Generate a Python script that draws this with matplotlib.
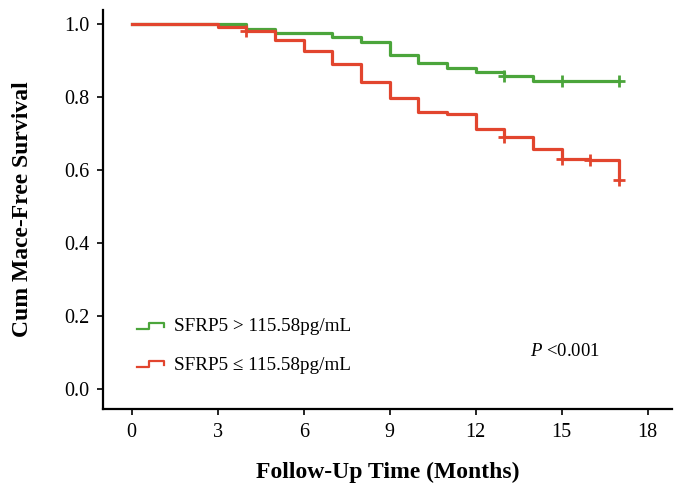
import numpy as np
import matplotlib
matplotlib.use("Agg")
import matplotlib.pyplot as plt
from matplotlib.legend_handler import HandlerBase
from matplotlib.lines import Line2D

# Kaplan-Meier step values
green_t = [0, 4, 5, 7, 8, 9, 10, 11, 12, 13, 14, 17]
green_s = [1.0, 0.986, 0.975, 0.964, 0.951, 0.915, 0.892, 0.879, 0.867, 0.856, 0.843, 0.843]
green_cens = [13, 15, 17]

red_t = [0, 3, 4, 5, 6, 7, 8, 9, 10, 11, 12, 13, 14, 15, 16, 17]
red_s = [1.0, 0.992, 0.981, 0.956, 0.926, 0.890, 0.840, 0.796, 0.757, 0.753, 0.712,
         0.690, 0.658, 0.630, 0.627, 0.571]
red_cens = [4, 13, 15, 16, 17]

labels = ["SFRP5 > 115.58pg/mL", "SFRP5 \u2264 115.58pg/mL"]
xticks = [0, 3, 6, 9, 12, 15, 18]
yticks = [0.0, 0.2, 0.4, 0.6, 0.8, 1.0]

GREEN = "#4ba53b"
RED = "#e2452e"

plt.rcParams["font.family"] = ["Liberation Serif", "DejaVu Serif"]
plt.rcParams["mathtext.fontset"] = "custom"
plt.rcParams["mathtext.rm"] = "Liberation Serif"
plt.rcParams["mathtext.it"] = "Liberation Serif:italic"


def step_at(t, s, x):
    idx = np.searchsorted(t, x, side="right") - 1
    return np.asarray(s)[idx]


class StepHandler(HandlerBase):
    # small step icon like the SPSS legend
    def create_artists(self, legend, orig_handle, xdescent, ydescent,
                       width, height, fontsize, trans):
        w = width * 0.9
        x = np.array([0, 0.42, 0.42, 1.0, 1.0]) * w - xdescent
        y = np.array([0.2, 0.2, 0.65, 0.65, 0.35]) * height - ydescent
        line = Line2D(x, y, color=orig_handle.get_color(), lw=1.6, transform=trans)
        return [line]


fig = plt.figure(figsize=(6.85, 4.97), dpi=100)
ax = fig.add_axes([0.1504, 0.1771, 0.8307, 0.803])

h1, = ax.plot(green_t, green_s, drawstyle="steps-post", color=GREEN, lw=2.3)
h2, = ax.plot(red_t, red_s, drawstyle="steps-post", color=RED, lw=2.3)
ax.plot(green_cens, step_at(green_t, green_s, green_cens), ls="none", marker="+",
        ms=9, mew=2.0, color=GREEN)
ax.plot(red_cens, step_at(red_t, red_s, red_cens), ls="none", marker="+",
        ms=9, mew=2.0, color=RED)

ax.set_xlim(-1, 18.85)
ax.set_ylim(-0.055, 1.038)
ax.set_xticks(xticks)
ax.set_xticklabels([str(v) for v in xticks])
ax.set_yticks(yticks)
ax.set_yticklabels([f"{v:.1f}" for v in yticks])

for side in ["top", "right"]:
    ax.spines[side].set_visible(False)
for side in ["left", "bottom"]:
    ax.spines[side].set_linewidth(1.6)
ax.tick_params(direction="out", length=4, width=1.2, labelsize=14.5, pad=6)

ax.set_xlabel("Follow-Up Time (Months)", fontsize=17, fontweight="bold", labelpad=14)
ax.set_ylabel("Cum Mace-Free Survival", fontsize=17, fontweight="bold", labelpad=22)

ax.legend([h1, h2], labels, handler_map={Line2D: StepHandler()},
          loc="lower left", bbox_to_anchor=(0.03, 0.045), frameon=False,
          fontsize=13.8, handlelength=1.55, handletextpad=0.35, labelspacing=1.1)

ax.text(0.812, 0.143, r"$\mathit{P}$ <0.001", transform=ax.transAxes, fontsize=13.5,
        ha="center", va="center")

fig.savefig("out.png", dpi=100)
